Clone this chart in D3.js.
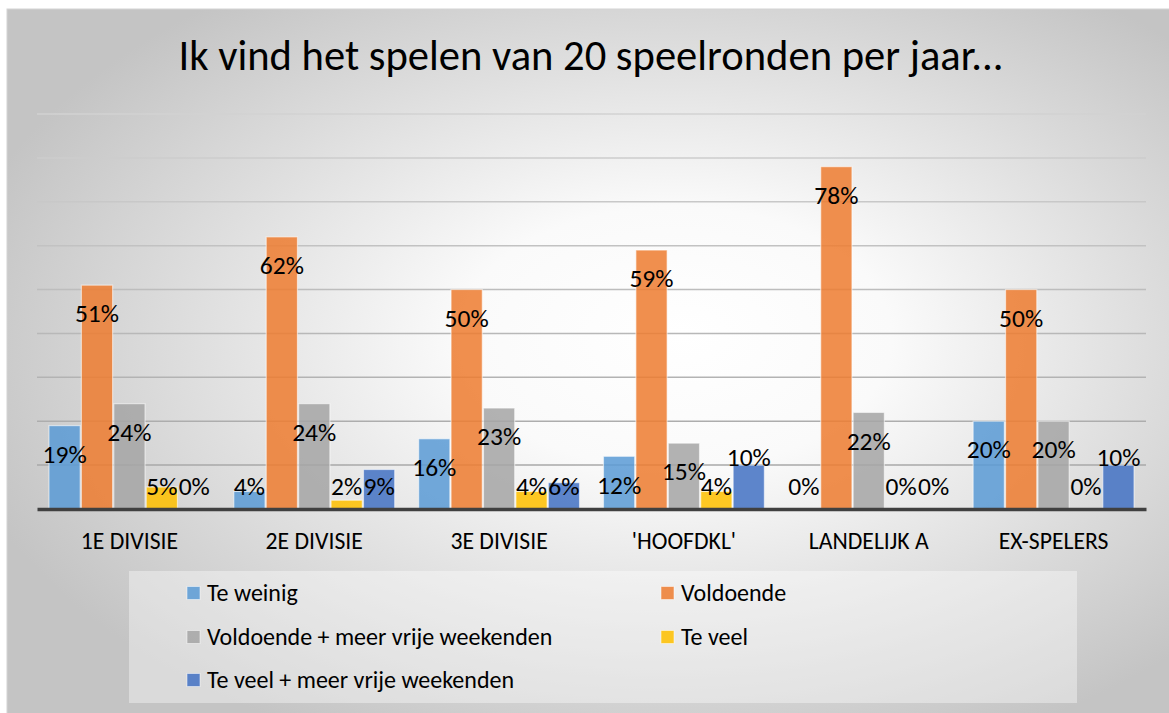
<!DOCTYPE html>
<html>
<head>
<meta charset="utf-8">
<script src="https://cdn.jsdelivr.net/npm/d3@7"></script>
<style>
html,body{margin:0;padding:0;background:#fff;}
svg{display:block;}
text{font-family:Carlito, Calibri, Lato, "Open Sans", sans-serif;fill:#000;}
</style>
</head>
<body>
<svg id="chart" width="1169" height="713"></svg>
<script>
const title = "Ik vind het spelen van 20 speelronden per jaar...";
const categories = ["1E DIVISIE", "2E DIVISIE", "3E DIVISIE", "'HOOFDKL'", "LANDELIJK A", "EX-SPELERS"];
const seriesNames = ["Te weinig", "Voldoende", "Voldoende + meer vrije weekenden", "Te veel", "Te veel + meer vrije weekenden"];
const teWeinig      = [19, 4, 16, 12, 0, 20];
const voldoende     = [51, 62, 50, 59, 78, 50];
const voldoendeMeer = [24, 24, 23, 15, 22, 20];
const teVeel        = [5, 2, 4, 4, 0, 0];
const teVeelMeer    = [0, 9, 6, 10, 0, 10];
const seriesColors  = ["#5B9BD5", "#ED7D31", "#A5A5A5", "#FFC000", "#4472C4"];
const gridTicks     = [0, 10, 20, 30, 40, 50, 60, 70, 80, 90];

const seriesValues = [teWeinig, voldoende, voldoendeMeer, teVeel, teVeelMeer];

const svg = d3.select("#chart");
const W = 1169, H = 713;

// background
const defs = svg.append("defs");
const rg = defs.append("radialGradient").attr("id","bg")
  .attr("cx","56%").attr("cy","48%").attr("r","62%").attr("fx","58%").attr("fy","46%");
rg.append("stop").attr("offset","0%").attr("stop-color","#ffffff");
rg.append("stop").attr("offset","30%").attr("stop-color","#fafafa");
rg.append("stop").attr("offset","100%").attr("stop-color","#c4c4c4");

svg.append("rect").attr("x",7).attr("y",9).attr("width",W-7+2).attr("height",H-9+2)
  .attr("fill","url(#bg)").attr("stroke","#d4d4d4").attr("stroke-width",1);

// title
svg.append("text").attr("x",591).attr("y",70).attr("text-anchor","middle")
  .style("font-size","42.6px").text(title);

// scales
const plotLeft = 37, plotRight = 1146, plotBottom = 509, plotTop = 114;
const y = d3.scaleLinear().domain([0, 90]).range([plotBottom, plotTop]);
const x0 = d3.scaleBand().domain(categories).range([plotLeft, plotRight])
  .paddingInner(0.123).paddingOuter(0.0615);
const x1 = d3.scaleBand().domain(d3.range(seriesNames.length)).range([0, x0.bandwidth()]).padding(0);

// gridlines
const gridColor = d3.scaleLinear().domain([90, 10]).range(["#d2d2d2", "#a8a8a8"]);
svg.append("g").selectAll("line").data(gridTicks.filter(t => t > 0)).join("line")
  .attr("x1", plotLeft).attr("x2", plotRight)
  .attr("y1", d => y(d)).attr("y2", d => y(d))
  .attr("stroke", d => gridColor(d)).attr("stroke-width", 1.5);

// bars
const groups = svg.append("g").selectAll("g").data(categories).join("g")
  .attr("transform", c => `translate(${x0(c)},0)`);

groups.selectAll("rect").data((c, ci) => seriesValues.map((vals, si) => ({si, v: vals[ci]}))).join("rect")
  .attr("x", d => x1(d.si) + 0.6)
  .attr("width", x1.bandwidth() - 1.2)
  .attr("y", d => y(d.v))
  .attr("height", d => y(0) - y(d.v))
  .attr("fill", d => seriesColors[d.si]).attr("fill-opacity", 0.86)
  .attr("stroke", "#ffffff").attr("stroke-opacity", 0.55).attr("stroke-width", 1.2)
  .style("display", d => d.v > 0 ? null : "none");

// axis
const xAxis = d3.axisBottom(x0).tickSize(0).tickPadding(0);
const ax = svg.append("g").attr("transform", `translate(0,${plotBottom})`).call(xAxis);
ax.select(".domain").attr("stroke", "#404040").attr("stroke-width", 3.5);
ax.selectAll("text").attr("y", 32).attr("dy", "0.35em")
  .style("font-size", "23.7px").style("font-family", "Carlito, Calibri, Lato, sans-serif").attr("fill", "#000");

// data labels (inside end; pushed above the bar when clamped and wider than the bar)
const lbls = groups.selectAll("text.lbl").data((c, ci) => seriesValues.map((vals, si) => ({si, v: vals[ci]}))).join("text")
  .attr("class","lbl")
  .attr("x", d => x1(d.si) + x1.bandwidth() / 2)
  .attr("dy", "0.36em")
  .attr("text-anchor", "middle")
  .style("font-size", "25.5px")
  .text(d => d.v + "%");
lbls.attr("y", function(d) {
  const inside = y(d.v) + 28, floor = plotBottom - 23;
  if (inside <= floor) return inside;
  const w = this.getComputedTextLength();
  if (d.v > 0 && w > x1.bandwidth() + 4) return y(d.v) - 8;
  return floor;
});

// legend
svg.append("rect").attr("x",129).attr("y",571).attr("width",948).attr("height",132)
  .attr("fill","#ffffff").attr("fill-opacity",0.38);
const legCols = [187, 661], legRows = [593, 637, 680];
const leg = svg.append("g").selectAll("g").data(seriesNames).join("g")
  .attr("transform", (d, i) => `translate(${legCols[i % 2]},${legRows[Math.floor(i / 2)]})`);
leg.append("rect").attr("x", 0).attr("y", -6.5).attr("width", 13).attr("height", 13)
  .attr("fill", (d, i) => seriesColors[i]).attr("fill-opacity", 0.86)
  .attr("stroke", "#ffffff").attr("stroke-opacity", 0.5).attr("stroke-width", 1);
leg.append("text").attr("x", 20).attr("y", 0).attr("dy", "0.35em")
  .style("font-size", "24px").text(d => d);
</script>
</body>
</html>
